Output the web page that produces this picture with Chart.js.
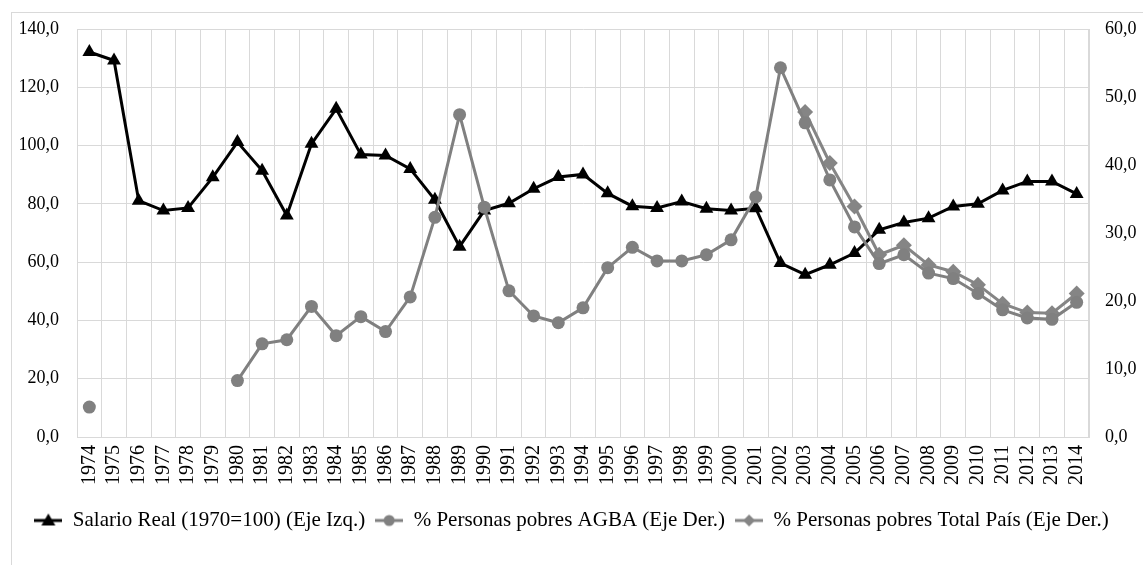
<!DOCTYPE html>
<html>
<head>
<meta charset="utf-8">
<script src="https://cdn.jsdelivr.net/npm/chart.js@4.4.1/dist/chart.umd.min.js"></script>
<style>
    html, body { margin: 0; padding: 0; background: #fff; }
    #wrap { width: 1143px; height: 565px; }
</style>
</head>
<body>
<div id="wrap"><canvas id="grafico" width="1143" height="565"></canvas></div>
<script>
const years = [];
for (let y = 1974; y <= 2014; y++) years.push(String(y));

// Salario Real (1970=100) - eje izquierdo
const salarioReal = [132.1, 129.2, 81.1, 77.7, 78.6, 89.1, 101.2, 91.4, 76.0, 100.6,
    112.6, 96.9, 96.6, 92.0, 81.4, 65.3, 77.7, 80.2, 85.2, 89.2,
    90.1, 83.6, 79.2, 78.6, 80.8, 78.3, 77.7, 78.5, 59.7, 55.7,
    59.1, 63.1, 71.1, 73.6, 75.1, 79.1, 80.0, 84.6, 87.7, 87.7, 83.4];

// % personas pobres AGBA - eje derecho
const pobresAGBA = [4.4, null, null, null, null, null, 8.3, 13.7, 14.3, 19.2,
    14.9, 17.7, 15.5, 20.6, 32.3, 47.4, 33.8, 21.5, 17.8, 16.8,
    19.0, 24.9, 27.9, 25.9, 25.9, 26.8, 29.0, 35.3, 54.3, 46.2,
    37.8, 30.9, 25.5, 26.8, 24.1, 23.3, 21.1, 18.7, 17.5, 17.3, 19.8];

// % personas pobres Total País - eje derecho
const pobresPais = [null, null, null, null, null, null, null, null, null, null,
    null, null, null, null, null, null, null, null, null, null,
    null, null, null, null, null, null, null, null, null, 47.8,
    40.3, 33.9, 26.8, 28.2, 25.3, 24.3, 22.4, 19.6, 18.3, 18.2, 21.1];

const leftTicks = [0, 20, 40, 60, 80, 100, 120, 140];
const rightTicks = [0, 10, 20, 30, 40, 50, 60];

const FONT = "'Liberation Serif', 'Times New Roman', serif";
const GRID = "#d9d9d9";

function fmt(v) {
    return v.toFixed(1).replace(".", ",");
}

// iconos de la leyenda: linea + marcador
function legendIcon(color, style) {
    let c = document.createElement("canvas");
    c.width = 28;
    c.height = 16;
    let ctx = c.getContext("2d");
    ctx.strokeStyle = color;
    ctx.fillStyle = color;
    ctx.lineWidth = 3;
    ctx.beginPath();
    ctx.moveTo(0, 8);
    ctx.lineTo(28, 8);
    ctx.stroke();
    ctx.beginPath();
    if (style === "triangle") {
        ctx.moveTo(14, 1);
        ctx.lineTo(21, 13);
        ctx.lineTo(7, 13);
    } else if (style === "circle") {
        ctx.arc(14, 8, 5.5, 0, Math.PI * 2);
    } else {
        ctx.moveTo(14, 2);
        ctx.lineTo(20, 8);
        ctx.lineTo(14, 14);
        ctx.lineTo(8, 8);
    }
    ctx.closePath();
    ctx.fill();
    return c;
}

const marcoPlugin = {
    id: "marco",
    beforeDraw(chart) {
        let ctx = chart.ctx;
        ctx.save();
        ctx.fillStyle = "#fff";
        ctx.fillRect(0, 0, chart.width, chart.height);
        ctx.strokeStyle = GRID;
        ctx.lineWidth = 1;
        ctx.strokeRect(11.5, 12.5, chart.width + 20, chart.height + 20);
        ctx.restore();
    }
};

const datasets = [
    {
        label: "Salario Real (1970=100) (Eje Izq.)",
        data: salarioReal,
        yAxisID: "yIzq",
        borderColor: "#000",
        backgroundColor: "#000",
        borderWidth: 3,
        pointStyle: "triangle",
        pointRadius: 8,
        pointBorderWidth: 0,
        order: 2,
        icon: legendIcon("#000", "triangle")
    },
    {
        label: "% Personas pobres AGBA (Eje Der.)",
        data: pobresAGBA,
        yAxisID: "yDer",
        borderColor: "#808080",
        backgroundColor: "#808080",
        borderWidth: 3,
        pointStyle: "circle",
        pointRadius: 6.5,
        pointBorderWidth: 0,
        order: 0,
        icon: legendIcon("#808080", "circle")
    },
    {
        label: "% Personas pobres Total País (Eje Der.)",
        data: pobresPais,
        yAxisID: "yDer",
        borderColor: "#858585",
        backgroundColor: "#858585",
        borderWidth: 3,
        pointStyle: "rectRot",
        pointRadius: 8,
        pointBorderWidth: 0,
        order: 1,
        icon: legendIcon("#858585", "rectRot")
    }
];

new Chart(document.getElementById("grafico"), {
    type: "line",
    data: { labels: years, datasets: datasets },
    plugins: [marcoPlugin],
    options: {
        responsive: false,
        animation: false,
        spanGaps: false,
        layout: { padding: { left: 0, right: 0, top: 29, bottom: 24 } },
        plugins: {
            tooltip: { enabled: false },
            legend: {
                position: "bottom",
                labels: {
                    color: "#000",
                    font: { family: FONT, size: 21 },
                    usePointStyle: true,
                    pointStyleWidth: 28,
                    boxHeight: 16,
                    padding: 10,
                    generateLabels(chart) {
                        return chart.data.datasets.map((ds, i) => ({
                            text: ds.label,
                            pointStyle: ds.icon,
                            fillStyle: ds.borderColor,
                            strokeStyle: ds.borderColor,
                            lineWidth: 0,
                            fontColor: "#000",
                            hidden: false,
                            datasetIndex: i
                        }));
                    }
                }
            }
        },
        scales: {
            x: {
                offset: true,
                grid: { color: GRID, offset: true, drawTicks: false },
                border: { color: GRID },
                ticks: {
                    autoSkip: false,
                    minRotation: 90,
                    maxRotation: 90,
                    padding: 8,
                    color: "#000",
                    font: { family: FONT, size: 20 }
                },
                afterFit(scale) { scale.height = 63; }
            },
            yIzq: {
                position: "left",
                min: 0,
                max: 140,
                grid: { color: GRID, drawTicks: false },
                border: { color: GRID },
                afterBuildTicks(scale) { scale.ticks = leftTicks.map(v => ({ value: v })); },
                ticks: {
                    padding: 18,
                    color: "#000",
                    font: { family: FONT, size: 18 },
                    callback: v => fmt(v)
                },
                afterFit(scale) { scale.width = 77; }
            },
            yDer: {
                position: "right",
                min: 0,
                max: 60,
                grid: { drawOnChartArea: false, drawTicks: false },
                border: { color: GRID },
                afterBuildTicks(scale) { scale.ticks = rightTicks.map(v => ({ value: v })); },
                ticks: {
                    padding: 16,
                    color: "#000",
                    font: { family: FONT, size: 18 },
                    callback: v => fmt(v)
                },
                afterFit(scale) { scale.width = 54; }
            }
        }
    }
});
</script>
</body>
</html>
